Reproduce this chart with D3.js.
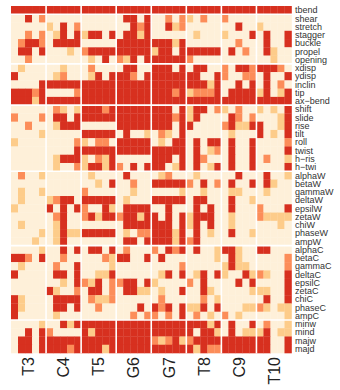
<!DOCTYPE html>
<html lang="en">
<head>
    <meta charset="UTF-8">
    <title>heatmap</title>
    <script src="https://cdn.jsdelivr.net/npm/d3@7"></script>
    <style>
        body, html { margin: 0; padding: 0; background: #fff; overflow: hidden; }
        svg { display: block; }
    </style>
</head>
<body>
    <svg id="mainsvg"></svg>
    <script>
        // row labels (top to bottom)
        const rows = ["tbend", "shear", "stretch", "stagger", "buckle", "propel", "opening",
            "xdisp", "ydisp", "inclin", "tip", "ax\u2212bend",
            "shift", "slide", "rise", "tilt", "roll", "twist", "h\u2212ris", "h\u2212twi",
            "alphaW", "betaW", "gammaW", "deltaW", "epsilW", "zetaW", "chiW", "phaseW", "ampW",
            "alphaC", "betaC", "gammaC", "deltaC", "epsilC", "zetaC", "chiC", "phaseC", "ampC",
            "minw", "mind", "majw", "majd"];
        // row index where a new block starts (white separators)
        const rowBreaks = [1, 7, 12, 20, 29, 38];

        const groups = ["T3", "C4", "T5", "G6", "G7", "T8", "C9", "T10"];
        const subCols = [0, 1, 2, 3, 4];

        // level 0..3 per cell, one string of 5 sub-columns per row
        const T3 = ["33333", "00302", "00000", "00202", "02332", "03303", "00200",
            "01000", "30000", "00003", "33323", "33313",
            "00000", "20002", "00200", "00001", "10000", "00000", "00000", "00000",
            "02001", "00000", "01001", "01000", "10000", "00000", "01000", "00001", "00010",
            "00001", "33203", "01000", "30000", "00000", "00000", "31000", "31000", "30000",
            "00001", "00303", "03303", "03303"];
        const C4 = ["33333", "00000", "10302", "01303", "03333", "00010", "00000",
            "00100", "01200", "33333", "00002", "33333",
            "02101", "03303", "01333", "00000", "00002", "00003", "01333", "01002",
            "00000", "00000", "00000", "12330", "30303", "02300", "01300", "01311", "01300",
            "00303", "00200", "02003", "03303", "00103", "31002", "03333", "03303", "01000",
            "00313", "20000", "33333", "33323"];
        const T5 = ["33333", "00000", "00000", "13303", "00000", "23333", "01030",
            "02000", "01303", "33333", "33333", "33333",
            "33323", "33333", "00000", "33333", "10220", "33333", "10213", "13313",
            "01000", "00103", "20000", "33333", "20031", "23133", "00000", "33333", "00000",
            "03303", "00021", "00001", "00113", "21302", "03302", "02112", "00200", "00000",
            "33333", "31333", "33333", "33313"];
        const G6 = ["33333", "03303", "00323", "03313", "33333", "33333", "21303",
            "03300", "33203", "33333", "33333", "33333",
            "33333", "33333", "33333", "03001", "33333", "33333", "00000", "20303",
            "03000", "00200", "00100", "01000", "03333", "23313", "03333", "01022", "03303",
            "02000", "33003", "00000", "00000", "23303", "03311", "00000", "00030", "00202",
            "33333", "33333", "33333", "33333"];
        const G7 = ["33333", "00202", "00312", "00000", "33313", "13303", "33333",
            "33303", "33333", "33333", "33323", "33333",
            "33303", "33323", "33303", "02103", "01033", "33333", "33303", "33013",
            "01200", "33333", "00001", "33333", "00300", "30303", "33303", "33313", "33313",
            "20323", "03000", "00002", "01303", "10000", "01003", "02000", "32303", "20203",
            "33333", "33333", "21231", "33333"];
        const T8 = ["33333", "10200", "00000", "01000", "00000", "33333", "20000",
            "03300", "33003", "33313", "12223", "33333",
            "13302", "13000", "30000", "00000", "03033", "03012", "03200", "03013",
            "01000", "20302", "00100", "03300", "03030", "13330", "13030", "03010", "23000",
            "03001", "00001", "00000", "01303", "20300", "00310", "00201", "11303", "02010",
            "33313", "30331", "23333", "31322"];
        const C9 = ["33333", "20000", "00300", "10003", "00200", "03020", "00000",
            "20332", "20022", "00303", "03333", "33333",
            "10200", "03202", "23113", "01000", "03003", "03003", "03003", "03003",
            "00300", "03003", "01100", "03001", "03000", "01000", "01000", "03001", "00000",
            "33100", "03100", "13110", "10031", "00303", "00001", "00000", "00011", "20100",
            "03003", "03011", "33333", "33333"];
        const T10 = ["33333", "00000", "10000", "03003", "03003", "03100", "00100",
            "33320", "03003", "03020", "13013", "33333",
            "10103", "00013", "30013", "30103", "00002", "00003", "02001", "00003",
            "03001", "03100", "01000", "00000", "20003", "21111", "00010", "00000", "00000",
            "33000", "00002", "00002", "21003", "00003", "11003", "03003", "21011", "00001",
            "02001", "13011", "33003", "33003"];

        const groupData = [T3, C4, T5, G6, G7, T8, C9, T10];
        const palette = ["#fef0d9", "#fdcc8a", "#fc8d59", "#d7301f"];

        const width = 340, height = 390;
        const svg = d3.select("#mainsvg")
            .attr("width", width)
            .attr("height", height);

        const x0 = 11, x1 = 291.5, y0 = 6, y1 = 353;

        // all 40 columns in one band scale, groups on top of it
        const colKeys = [];
        groups.forEach(g => subCols.forEach(s => colKeys.push(g + "_" + s)));
        const x = d3.scaleBand().domain(colKeys).range([x0, x1]);
        const gx = d3.scaleBand().domain(groups).range([x0, x1]);
        const y = d3.scaleBand().domain(d3.range(rows.length)).range([y0, y1]);
        const color = d3.scaleOrdinal().domain([0, 1, 2, 3]).range(palette);

        const cells = [];
        groups.forEach((g, gi) => {
            groupData[gi].forEach((str, ri) => {
                subCols.forEach(s => {
                    cells.push({ g: g, s: s, r: ri, v: +str[s] });
                });
            });
        });

        svg.append("g")
            .selectAll("rect")
            .data(cells)
            .join("rect")
            .attr("x", d => x(d.g + "_" + d.s))
            .attr("y", d => y(d.r))
            .attr("width", x.bandwidth() + 0.3)
            .attr("height", y.bandwidth() + 0.3)
            .attr("fill", d => color(d.v));

        // white separators
        const sep = svg.append("g").attr("stroke", "#fff").attr("stroke-width", 1.6);
        sep.selectAll("line.v")
            .data(groups.slice(1))
            .join("line")
            .attr("class", "v")
            .attr("x1", d => gx(d)).attr("x2", d => gx(d))
            .attr("y1", y0).attr("y2", y1 + 0.5);
        sep.selectAll("line.h")
            .data(rowBreaks)
            .join("line")
            .attr("class", "h")
            .attr("x1", x0).attr("x2", x1 + 0.5)
            .attr("y1", d => y(d)).attr("y2", d => y(d));

        // row labels on the right
        svg.append("g")
            .selectAll("text")
            .data(rows)
            .join("text")
            .attr("x", x1 + 3.5)
            .attr("y", (d, i) => y(i) + y.bandwidth() / 2)
            .attr("dy", "0.35em")
            .attr("font-family", "Liberation Sans, Arial, sans-serif")
            .attr("font-size", 9)
            .attr("fill", "#333")
            .text(d => d);

        // group labels at the bottom, rotated
        svg.append("g")
            .selectAll("text")
            .data(groups)
            .join("text")
            .attr("transform", d => `translate(${gx(d) + gx.bandwidth() / 2},${y1 + 4}) rotate(-90)`)
            .attr("text-anchor", "end")
            .attr("dy", "0.36em")
            .attr("font-family", "Liberation Sans, Arial, sans-serif")
            .attr("font-size", 16)
            .attr("fill", "#222")
            .text(d => d);
    </script>
</body>
</html>
